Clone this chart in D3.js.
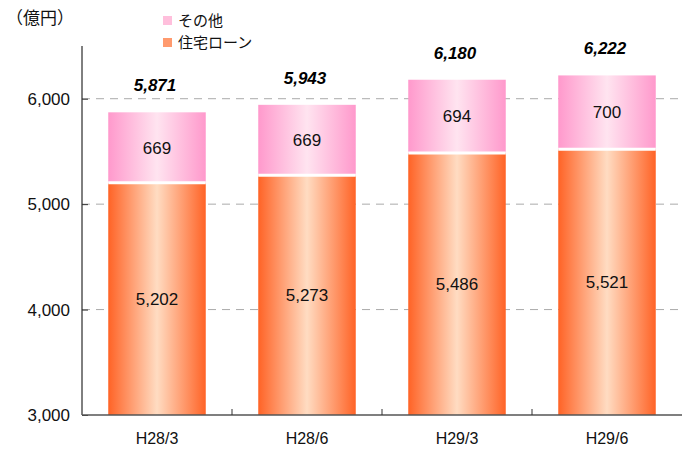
<!DOCTYPE html>
<html><head><meta charset="utf-8">
<script src="https://cdn.jsdelivr.net/npm/d3@7"></script>
<style>body{margin:0;background:#fff}svg{display:block}</style>
</head><body>
<svg id="c" width="689" height="455"></svg>
<script>
const categories = ["H28/3","H28/6","H29/3","H29/6"];
const loan = [5202,5273,5486,5521];
const other = [669,669,694,700];
const totals = [5871,5943,6180,6222];
const yTicks = [3000,4000,5000,6000];
const seriesNames = ["その他","住宅ローン"];

const LAT = "'Liberation Sans', Arial, sans-serif";
const CJK = "'Noto Sans CJK JP', sans-serif";
const svg = d3.select("#c");
const m = {l:82, r:7, t:46, b:40};
const W = 689, H = 455;
const x = d3.scaleBand().domain(categories).range([m.l, W-m.r]).paddingInner(0.35).paddingOuter(0.175);
const xb = d3.scaleBand().domain(categories).range([m.l, W-m.r]);
const y = d3.scaleLinear().domain([3000,6500]).range([H-m.b, m.t]);

const defs = svg.append("defs");
function grad(id, edge, mid){
  const g = defs.append("linearGradient").attr("id",id).attr("x1","0").attr("x2","1").attr("y1","0").attr("y2","0");
  g.append("stop").attr("offset","0%").attr("stop-color",edge);
  g.append("stop").attr("offset","50%").attr("stop-color",mid);
  g.append("stop").attr("offset","100%").attr("stop-color",edge);
}
grad("gp","#ff99cc","#ffe4f0");
grad("go","#ff6326","#ffdcc2");

svg.append("g").selectAll("line").data(yTicks.slice(1)).join("line")
  .attr("x1",m.l).attr("x2",W-m.r).attr("y1",d=>y(d)).attr("y2",d=>y(d))
  .attr("stroke","#aaa").attr("stroke-dasharray","8,6").attr("stroke-width",1);

const g = svg.append("g");
categories.forEach((c,i)=>{
  g.append("rect").attr("x",x(c)).attr("width",x.bandwidth())
    .attr("y",y(loan[i])).attr("height",y(3000)-y(loan[i]))
    .attr("fill","url(#go)");
  g.append("rect").attr("x",x(c)).attr("width",x.bandwidth())
    .attr("y",y(loan[i]+other[i])).attr("height",y(loan[i])-y(loan[i]+other[i]))
    .attr("fill","url(#gp)");
  g.append("line").attr("x1",x(c)).attr("x2",x(c)+x.bandwidth())
    .attr("y1",y(loan[i])).attr("y2",y(loan[i])).attr("stroke","#fff").attr("stroke-width",3);
  const cx = x(c)+x.bandwidth()/2;
  g.append("text").attr("x",cx).attr("y",(y(3000)+y(loan[i]))/2).attr("dy","0.35em")
    .attr("text-anchor","middle").style("font-size","17px").style("font-family",LAT).attr("fill","#111").text(d3.format(",")(loan[i]));
  g.append("text").attr("x",cx).attr("y",(y(loan[i])+y(loan[i]+other[i]))/2).attr("dy","0.35em")
    .attr("text-anchor","middle").style("font-size","17px").style("font-family",LAT).attr("fill","#111").text(d3.format(",")(other[i]));
  g.append("text").attr("x",cx-2).attr("y",y(totals[i])-27).attr("dy","0.35em")
    .attr("text-anchor","middle").style("font-size","17px").style("font-weight","bold").style("font-style","italic")
    .style("font-family",LAT).attr("fill","#000").text(d3.format(",")(totals[i]));
});

const ya = svg.append("g").attr("transform",`translate(${m.l},0)`)
  .call(d3.axisLeft(y).tickValues(yTicks).tickFormat(d3.format(",")).tickSize(-6).tickPadding(12));
ya.select(".domain").attr("stroke","#000").attr("d",`M0,${m.t}V${H-m.b}`);
ya.selectAll(".tick line").attr("stroke","#333");
ya.selectAll("text").style("font-size","17px").style("font-family",LAT).attr("fill","#111");

const xa = svg.append("g").attr("transform",`translate(0,${H-m.b})`);
xa.append("line").attr("x1",m.l).attr("x2",W-m.r).attr("stroke","#555").attr("stroke-width",1.5);
xa.selectAll("line.t").data(categories.slice(1)).join("line").attr("class","t")
  .attr("x1",d=>xb(d)).attr("x2",d=>xb(d)).attr("y1",0).attr("y2",-6).attr("stroke","#333");
xa.selectAll("text").data(categories).join("text")
  .attr("x",d=>xb(d)+xb.bandwidth()/2).attr("y",29).attr("text-anchor","middle")
  .style("font-size","16px").style("font-family",LAT).attr("fill","#111").text(d=>d);

svg.append("text").attr("x",6).attr("y",24).style("font-size","17px").style("font-family",CJK).attr("fill","#111").text("（億円）");

const lg = svg.append("g");
seriesNames.forEach((s,i)=>{
  lg.append("rect").attr("x",163).attr("y",16+i*22).attr("width",9).attr("height",9)
    .attr("fill",i===0?"#ffbfdc":"#ff9a6e");
  lg.append("text").attr("x",178).attr("y",26+i*22).style("font-size","15px").style("font-family",CJK).attr("fill","#111").text(s);
});
</script>
</body></html>
